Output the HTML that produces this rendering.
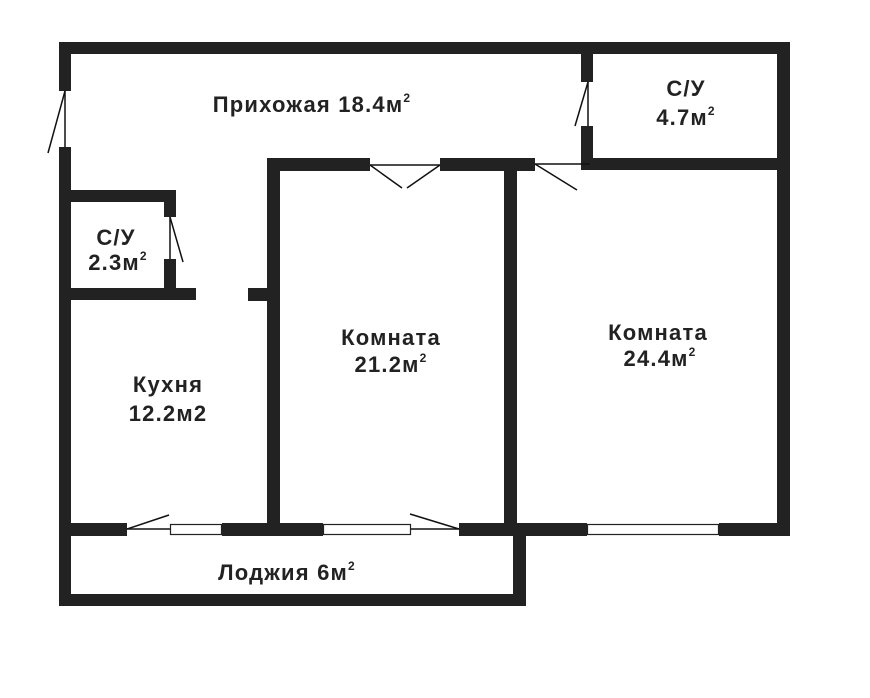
<!DOCTYPE html>
<html><head><meta charset="utf-8"><style>
html,body{margin:0;padding:0;background:#fff;}
svg{display:block;}
text{font-family:"Liberation Sans",sans-serif;font-weight:bold;fill:#222;font-size:22px;letter-spacing:1.2px;text-anchor:middle;}
tspan.s{font-size:12px;}
</style></head><body>
<svg width="870" height="698" viewBox="0 0 870 698" xmlns="http://www.w3.org/2000/svg">
<g fill="#222">
<rect x="59" y="42" width="731" height="12"/>
<rect x="59" y="42" width="12" height="49"/>
<rect x="59" y="147" width="12" height="459"/>
<rect x="777" y="42" width="13" height="494"/>
<rect x="581" y="42" width="12" height="40"/>
<rect x="581" y="126" width="12" height="44"/>
<rect x="588" y="158" width="202" height="12"/>
<rect x="267" y="158" width="103" height="13"/>
<rect x="440" y="158" width="95" height="13"/>
<rect x="267" y="158" width="13" height="378"/>
<rect x="504" y="158" width="13" height="378"/>
<rect x="71" y="190" width="105" height="12"/>
<rect x="164" y="190" width="12" height="27"/>
<rect x="164" y="259" width="12" height="41"/>
<rect x="71" y="288" width="125" height="12"/>
<rect x="248" y="288" width="32" height="13"/>
<rect x="59" y="523" width="68" height="13"/>
<rect x="222" y="523" width="101" height="13"/>
<rect x="459" y="523" width="128" height="13"/>
<rect x="719" y="523" width="71" height="13"/>
<rect x="513" y="523" width="13" height="83"/>
<rect x="59" y="594" width="467" height="12"/>
</g>
<g fill="#fff" stroke="#222" stroke-width="1.2">
<rect x="170.5" y="524.5" width="51" height="10"/>
<rect x="323.5" y="524.5" width="87" height="10"/>
<rect x="587.5" y="524.5" width="131" height="10"/>
</g>
<g stroke="#111" stroke-width="1.5" fill="none">
<line x1="65" y1="91" x2="65" y2="147"/><line x1="65" y1="91" x2="48" y2="153"/>
<line x1="588" y1="82" x2="588" y2="126"/><line x1="588" y1="82" x2="575" y2="126"/>
<line x1="370" y1="165" x2="440" y2="165"/><line x1="370" y1="165" x2="402" y2="188"/><line x1="440" y1="165" x2="407" y2="188"/>
<line x1="535" y1="164" x2="590" y2="164"/><line x1="535" y1="164" x2="577" y2="190"/>
<line x1="170" y1="217" x2="170" y2="259"/><line x1="170" y1="217" x2="183" y2="262"/>
<line x1="127" y1="529" x2="170" y2="529"/><line x1="127" y1="529" x2="169" y2="515"/>
<line x1="411" y1="529" x2="459" y2="529"/><line x1="459" y1="529" x2="410" y2="514"/>
</g>
<text x="312" y="112">Прихожая 18.4м<tspan class="s" dy="-10">2</tspan></text>
<text x="686" y="96">С/У</text>
<text x="686" y="125">4.7м<tspan class="s" dy="-10">2</tspan></text>
<text x="116" y="245">С/У</text>
<text x="118" y="270">2.3м<tspan class="s" dy="-10">2</tspan></text>
<text x="391" y="345">Комната</text>
<text x="391" y="372">21.2м<tspan class="s" dy="-10">2</tspan></text>
<text x="658" y="340">Комната</text>
<text x="660" y="366">24.4м<tspan class="s" dy="-10">2</tspan></text>
<text x="168" y="392">Кухня</text>
<text x="168" y="421">12.2м2</text>
<text x="287" y="580">Лоджия 6м<tspan class="s" dy="-10">2</tspan></text>
</svg>
</body></html>
